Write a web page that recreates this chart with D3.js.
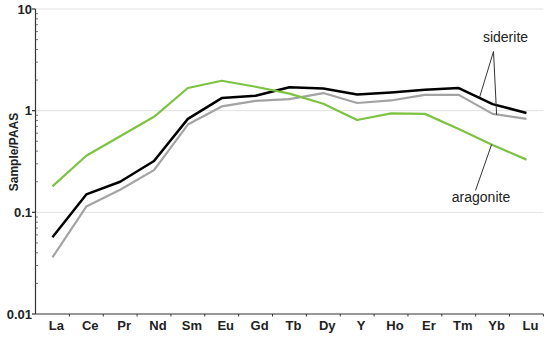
<!DOCTYPE html>
<html>
<head>
<meta charset="utf-8">
<script src="https://cdn.jsdelivr.net/npm/d3@7"></script>
<style>
  html, body { margin: 0; padding: 0; background: #fff; }
  svg { display: block; font-family: "Liberation Sans", Arial, sans-serif; }
</style>
</head>
<body>
<svg id="chart" width="550" height="338"></svg>
<script>
const elements = ["La","Ce","Pr","Nd","Sm","Eu","Gd","Tb","Dy","Y","Ho","Er","Tm","Yb","Lu"];
const aragonite = [0.18,0.36,0.56,0.87,1.67,1.97,1.72,1.47,1.17,0.81,0.94,0.93,0.66,0.46,0.33];
const sideriteA = [0.057,0.15,0.20,0.32,0.83,1.33,1.40,1.70,1.65,1.44,1.51,1.61,1.67,1.16,0.95];
const sideriteB = [0.036,0.114,0.167,0.26,0.73,1.10,1.25,1.30,1.49,1.19,1.26,1.43,1.43,0.93,0.83];
const yTicks = [0.01, 0.1, 1, 10];
const yTickLabels = ["0.01", "0.1", "1", "10"];
const yLabel = "Sample/PAAS";

const svg = d3.select("#chart");
const mLeft = 35.5, mRight = 543.4, mTop = 9, mBottom = 314;

const x = d3.scaleBand().domain(elements).range([mLeft, mRight]).padding(0);
const y = d3.scaleLog().domain([0.01, 10]).range([mBottom, mTop]);
const cx = d => x(d) + x.bandwidth() / 2;

// gridlines
svg.append("g").selectAll("line").data(yTicks.slice(1)).join("line")
  .attr("x1", mLeft).attr("x2", mRight)
  .attr("y1", d => y(d)).attr("y2", d => y(d))
  .attr("stroke", "#e2e2e2").attr("stroke-width", 1);

// lines
const line = vals => d3.line().x((d, i) => cx(elements[i])).y(d => y(d))(vals);
svg.append("path").attr("d", line(sideriteB)).attr("fill", "none")
  .attr("stroke", "#a3a3a3").attr("stroke-width", 2.2).attr("stroke-linejoin", "round");
svg.append("path").attr("d", line(sideriteA)).attr("fill", "none")
  .attr("stroke", "#000").attr("stroke-width", 2.5).attr("stroke-linejoin", "round");
svg.append("path").attr("d", line(aragonite)).attr("fill", "none")
  .attr("stroke", "#7dc242").attr("stroke-width", 2.2).attr("stroke-linejoin", "round");

// y axis
const gy = svg.append("g");
gy.append("line").attr("x1", mLeft).attr("x2", mLeft).attr("y1", mTop).attr("y2", mBottom)
  .attr("stroke", "#333").attr("stroke-width", 1.2);
const minor = [];
for (let e = -2; e < 1; e++) for (let m = 2; m <= 9; m++) minor.push(m * Math.pow(10, e));
gy.selectAll(".minor").data(minor).join("line").attr("class", "minor")
  .attr("x1", mLeft).attr("x2", mLeft + 2.5)
  .attr("y1", d => y(d)).attr("y2", d => y(d))
  .attr("stroke", "#555").attr("stroke-width", 0.8);
gy.selectAll(".major").data(yTicks).join("line").attr("class", "major")
  .attr("x1", mLeft - 3.5).attr("x2", mLeft)
  .attr("y1", d => y(d)).attr("y2", d => y(d))
  .attr("stroke", "#333").attr("stroke-width", 1.2);
gy.selectAll("text").data(yTicks).join("text")
  .attr("x", mLeft - 3.5).attr("y", d => y(d)).attr("dy", "0.35em")
  .attr("text-anchor", "end").attr("font-size", 13).attr("font-weight", "bold")
  .attr("fill", "#222").text((d, i) => yTickLabels[i]);

// x axis
const gx = svg.append("g");
gx.append("line").attr("x1", mLeft).attr("x2", mRight).attr("y1", mBottom).attr("y2", mBottom)
  .attr("stroke", "#333").attr("stroke-width", 1.2);
const bounds = elements.map(e => x(e)).concat([mRight]);
gx.selectAll(".tk").data(bounds.slice(1)).join("line").attr("class", "tk")
  .attr("x1", d => d).attr("x2", d => d).attr("y1", mBottom).attr("y2", mBottom + 2.5)
  .attr("stroke", "#333").attr("stroke-width", 1);
gx.selectAll("text").data(elements).join("text")
  .attr("x", d => cx(d) + 4).attr("y", mBottom + 7).attr("dy", "0.71em")
  .attr("text-anchor", "middle").attr("font-size", 13).attr("font-weight", "bold")
  .attr("fill", "#222").text(d => d);

// y label
svg.append("text").attr("transform", `translate(17.5,152) rotate(-90)`)
  .attr("text-anchor", "middle").attr("font-size", 12).attr("font-weight", "bold")
  .attr("fill", "#222").text(yLabel);

// annotations
const ann = svg.append("g").attr("stroke", "#333").attr("stroke-width", 1).attr("fill", "none");
const ybIdx = elements.indexOf("Yb"), tmIdx = elements.indexOf("Tm");
const midX = (cx("Tm") + cx("Yb")) / 2 + 4;
const t = (midX - cx("Tm")) / (cx("Yb") - cx("Tm"));
const midY = Math.exp(Math.log(sideriteA[tmIdx]) * (1 - t) + Math.log(sideriteA[ybIdx]) * t);
ann.append("line").attr("x1", 493.5).attr("y1", 51.5).attr("x2", midX).attr("y2", y(midY) - 1);
ann.append("line").attr("x1", 493.5).attr("y1", 51.5).attr("x2", cx("Yb") + 4).attr("y2", y(sideriteB[ybIdx]) + 1);
const arX = cx("Yb") - 1;
const ta = (arX - cx("Tm")) / (cx("Yb") - cx("Tm"));
const arY = Math.exp(Math.log(aragonite[tmIdx]) * (1 - ta) + Math.log(aragonite[ybIdx]) * ta);
ann.append("line").attr("x1", 475.5).attr("y1", 190.5).attr("x2", arX).attr("y2", y(arY));

svg.append("text").attr("x", 505.5).attr("y", 42).attr("text-anchor", "middle")
  .attr("font-size", 14).attr("fill", "#222").text("siderite");
svg.append("text").attr("x", 481).attr("y", 202).attr("text-anchor", "middle")
  .attr("font-size", 14).attr("fill", "#222").text("aragonite");
</script>
</body>
</html>
